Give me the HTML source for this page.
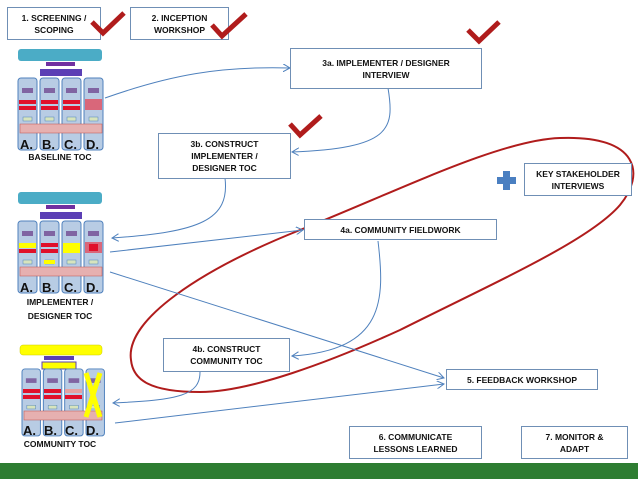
<!DOCTYPE html>
<html><head><meta charset="utf-8"><style>
body{margin:0;width:638px;height:479px;background:#fff;position:relative;overflow:hidden;font-family:"Liberation Sans",sans-serif}
.b{position:absolute;border:1px solid #6f8fb5;background:#fff;box-sizing:border-box;display:flex;align-items:center;justify-content:center;text-align:center;font-size:8.5px;font-weight:bold;line-height:12px;color:#111}
.l{position:absolute;text-align:center;font-size:8.5px;font-weight:bold;line-height:14px;color:#111}
</style></head><body>
<svg width="638" height="479" style="position:absolute;left:0;top:0">
<defs>
<marker id="a" markerWidth="8" markerHeight="8" refX="7" refY="4" orient="auto" markerUnits="userSpaceOnUse"><path d="M0,0 L7,4 L0,8" fill="none" stroke="#4f81bd" stroke-width="1"/></marker>
<g id="col"><rect x="0" y="29" width="19" height="72" rx="3" fill="#b8cce4" stroke="#4f81bd" stroke-width="1"/><rect x="4" y="39" width="11" height="5" fill="#8064a2"/><rect x="5" y="68" width="9" height="4" fill="#d7e4bd" stroke="#4f81bd" stroke-width=".5"/></g>
</defs>
<rect x="0" y="463" width="638" height="16" fill="#2e7d32"/>
<path d="M131,360 C125,320 200,270 300,230 C400,190 500,140 560,138 C640,135 645,175 620,205 C590,240 500,280 400,330 C330,362 250,392 200,392 C150,392 133,380 131,360 Z" fill="none" stroke="#b01c1c" stroke-width="2"/>
<g fill="none" stroke="#4f81bd" stroke-width="1" marker-end="url(#a)">
<path d="M105,98 C170,75 220,66 290,68"/>
<path d="M388,88 C395,130 390,148 292,152"/>
<path d="M225,178 C230,220 200,232 112,238"/>
<path d="M110,252 L303,230"/>
<path d="M378,241 C385,300 385,350 292,356"/>
<path d="M200,372 C200,395 180,400 113,403"/>
<path d="M110,272 L444,378"/>
<path d="M115,423 L444,384"/>
</g>
<g transform="translate(18,49)">
<rect x="0" y="0" width="84" height="12" rx="3" fill="#4bacc6"/>
<rect x="28" y="13" width="29" height="4" fill="#7030a0"/>
<rect x="22" y="20" width="42" height="7" fill="#5b3fb5"/>
<use href="#col" x="0"/><use href="#col" x="22"/><use href="#col" x="44"/><use href="#col" x="66"/>
<rect x="2" y="75" width="82" height="9" fill="#e6b0b0" stroke="#c0504d" stroke-width=".5"/>
<text x="2" y="100" font-size="13" font-weight="bold" fill="#111">A.</text>
<text x="24" y="100" font-size="13" font-weight="bold" fill="#111">B.</text>
<text x="46" y="100" font-size="13" font-weight="bold" fill="#111">C.</text>
<text x="68" y="100" font-size="13" font-weight="bold" fill="#111">D.</text>
<g fill="#e0102a"><rect x="1" y="51" width="17" height="4"/><rect x="1" y="57" width="17" height="4"/><rect x="23" y="51" width="17" height="4"/><rect x="23" y="57" width="17" height="4"/><rect x="45" y="51" width="17" height="4"/><rect x="45" y="57" width="17" height="4"/></g>
<rect x="67" y="50" width="17" height="11" fill="#d9677a"/>
</g>
<g transform="translate(18,192)">
<rect x="0" y="0" width="84" height="12" rx="3" fill="#4bacc6"/>
<rect x="28" y="13" width="29" height="4" fill="#7030a0"/>
<rect x="22" y="20" width="42" height="7" fill="#5b3fb5"/>
<use href="#col" x="0"/><use href="#col" x="22"/><use href="#col" x="44"/><use href="#col" x="66"/>
<rect x="2" y="75" width="82" height="9" fill="#e6b0b0" stroke="#c0504d" stroke-width=".5"/>
<text x="2" y="100" font-size="13" font-weight="bold" fill="#111">A.</text><text x="24" y="100" font-size="13" font-weight="bold" fill="#111">B.</text><text x="46" y="100" font-size="13" font-weight="bold" fill="#111">C.</text><text x="68" y="100" font-size="13" font-weight="bold" fill="#111">D.</text>
<rect x="1" y="51" width="17" height="5" fill="#ffff00"/><rect x="1" y="57" width="17" height="4" fill="#e0102a"/>
<rect x="23" y="51" width="17" height="4" fill="#e0102a"/><rect x="23" y="57" width="17" height="4" fill="#e0102a"/><rect x="26" y="68" width="11" height="4" fill="#ffff00"/>
<rect x="45" y="51" width="17" height="10" fill="#ffff00"/>
<rect x="67" y="50" width="17" height="11" fill="#d9677a"/><rect x="71" y="52" width="9" height="7" fill="#e0102a"/>
</g>
<g transform="translate(20,345)">
<rect x="0" y="0" width="82" height="10" rx="3" fill="#ffff00" stroke="#c9c900" stroke-width=".5"/>
<rect x="24" y="11" width="30" height="4" fill="#5b3fb5"/>
<rect x="22" y="17" width="34" height="7" fill="#ffff00" stroke="#5b3fb5"/>
<g transform="translate(2,-3) scale(0.97,0.93)"><use href="#col" x="0"/><use href="#col" x="22"/><use href="#col" x="44"/><use href="#col" x="66"/></g>
<rect x="4" y="66" width="78" height="9" fill="#e6b0b0" stroke="#c0504d" stroke-width=".5"/>
<text x="3" y="90" font-size="13" font-weight="bold" fill="#111">A.</text><text x="24" y="90" font-size="13" font-weight="bold" fill="#111">B.</text><text x="45" y="90" font-size="13" font-weight="bold" fill="#111">C.</text><text x="66" y="90" font-size="13" font-weight="bold" fill="#111">D.</text>
<g fill="#e0102a"><rect x="3" y="44" width="17" height="4"/><rect x="3" y="50" width="17" height="4"/><rect x="24" y="44" width="17" height="4"/><rect x="24" y="50" width="17" height="4"/><rect x="45" y="50" width="17" height="4"/></g>
<rect x="45" y="44" width="17" height="4" fill="#e6a0a0"/>
<path d="M66,28 L80,72 M80,28 L66,72" stroke="#ffff00" stroke-width="5"/>
</g>
<path d="M503,171 h7 v6 h6 v7 h-6 v6 h-7 v-6 h-6 v-7 h6 z" fill="#4a7fc1"/>
</svg>
<div class="b" style="left:7px;top:7px;width:94px;height:33px">1. SCREENING /<br>SCOPING</div>
<div class="b" style="left:130px;top:7px;width:99px;height:33px">2. INCEPTION<br>WORKSHOP</div>
<div class="b" style="left:290px;top:48px;width:192px;height:41px">3a. IMPLEMENTER / DESIGNER<br>INTERVIEW</div>
<div class="b" style="left:158px;top:133px;width:133px;height:46px">3b. CONSTRUCT<br>IMPLEMENTER /<br>DESIGNER TOC</div>
<div class="b" style="left:524px;top:163px;width:108px;height:33px">KEY STAKEHOLDER<br>INTERVIEWS</div>
<div class="b" style="left:304px;top:219px;width:193px;height:21px">4a. COMMUNITY FIELDWORK</div>
<div class="b" style="left:163px;top:338px;width:127px;height:34px">4b. CONSTRUCT<br>COMMUNITY TOC</div>
<div class="b" style="left:446px;top:369px;width:152px;height:21px">5. FEEDBACK WORKSHOP</div>
<div class="b" style="left:349px;top:426px;width:133px;height:33px">6. COMMUNICATE<br>LESSONS LEARNED</div>
<div class="b" style="left:521px;top:426px;width:107px;height:33px">7. MONITOR &amp;<br>ADAPT</div>
<div class="l" style="left:10px;top:150px;width:100px">BASELINE TOC</div>
<div class="l" style="left:10px;top:295px;width:100px">IMPLEMENTER /<br>DESIGNER TOC</div>
<div class="l" style="left:5px;top:437px;width:110px">COMMUNITY TOC</div>
<svg width="638" height="479" style="position:absolute;left:0;top:0">
<g fill="none" stroke="#b01c1c" stroke-width="5" stroke-linejoin="miter" stroke-linecap="butt">
<path d="M92,22 L103,33 L124,13"/>
<path d="M212,25 L222,36 L246,14"/>
<path d="M468,30 L479,41 L499,22"/>
<path d="M290,124 L300,135 L321,116"/>
</g>
</svg>
</body></html>
